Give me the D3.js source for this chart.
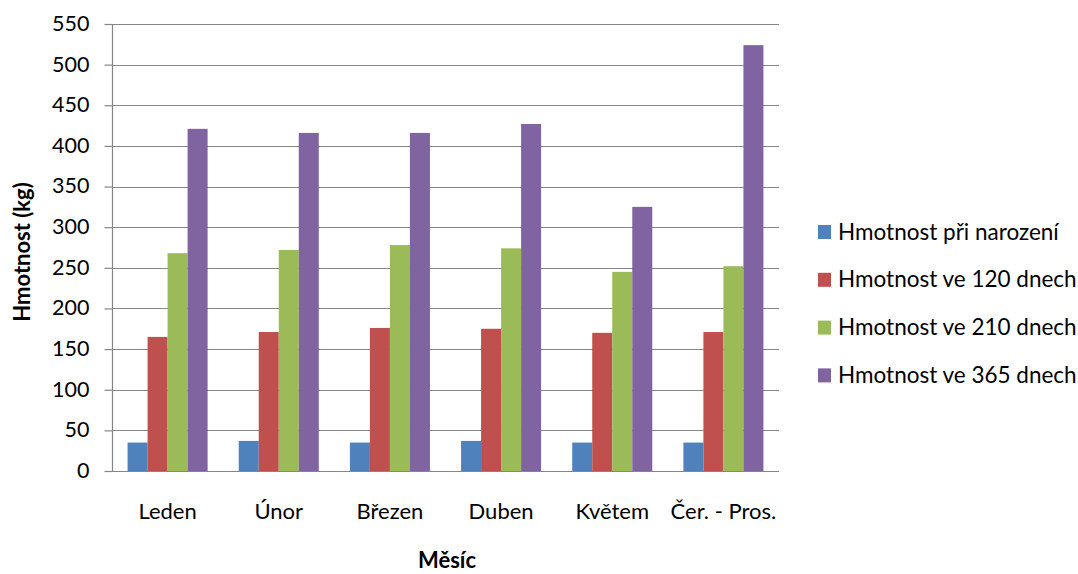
<!DOCTYPE html>
<html>
<head>
<meta charset="utf-8">
<script src="https://cdn.jsdelivr.net/npm/d3@7"></script>
<style>
  html, body { margin: 0; padding: 0; background: #fff; }
  svg { display: block; font-family: Lato, "Open Sans", sans-serif; }
</style>
</head>
<body>
<svg id="chart" width="1078" height="574"></svg>
<script>
// Months (category axis)
const months = ["Leden", "Únor", "Březen", "Duben", "Květem", "Čer. - Pros."];

// Series names
const seriesNames = [
  "Hmotnost při narození",
  "Hmotnost ve 120 dnech",
  "Hmotnost ve 210 dnech",
  "Hmotnost ve 365 dnech"
];

// Weights (kg) per month, one array per series
const birthWeight = [35, 37, 35, 37, 35, 35];
const weight120 = [165, 171, 176, 175, 170, 171];
const weight210 = [268, 272, 278, 274, 245, 252];
const weight365 = [421, 416, 416, 427, 325, 524];

const seriesColors = ["#4F81BD", "#C0504D", "#9BBB59", "#8064A2"];
const yTicks = [0, 50, 100, 150, 200, 250, 300, 350, 400, 450, 500, 550];

const seriesValues = [birthWeight, weight120, weight210, weight365];

const svg = d3.select("#chart");
const plot = { left: 112, right: 779, top: 24, bottom: 471 };

const x = d3.scaleBand()
  .domain(months)
  .range([plot.left, plot.right])
  .paddingInner(0.28)
  .paddingOuter(0.14);

const xSeries = d3.scaleBand()
  .domain(d3.range(seriesNames.length))
  .range([0, x.bandwidth()]);

const y = d3.scaleLinear()
  .domain([0, 550])
  .range([plot.bottom, plot.top]);

const gridColor = "#868686";

// Horizontal gridlines
svg.append("g")
  .selectAll("line")
  .data(yTicks)
  .join("line")
  .attr("x1", plot.left)
  .attr("x2", plot.right)
  .attr("y1", d => Math.round(y(d)) + 0.5)
  .attr("y2", d => Math.round(y(d)) + 0.5)
  .attr("stroke", gridColor)
  .attr("stroke-width", 1.2);

// Bars
const groups = svg.append("g")
  .selectAll("g")
  .data(months)
  .join("g")
  .attr("transform", d => `translate(${x(d)},0)`);

groups.selectAll("rect")
  .data((m, i) => seriesValues.map((vals, s) => ({ s, v: vals[i] })))
  .join("rect")
  .attr("x", d => xSeries(d.s))
  .attr("width", xSeries.bandwidth())
  .attr("y", d => y(d.v))
  .attr("height", d => y(0) - y(d.v))
  .attr("fill", d => seriesColors[d.s]);

// Y axis
const yAxis = d3.axisLeft(y)
  .tickValues(yTicks)
  .tickSize(8)
  .tickPadding(15)
  .tickFormat(d3.format("d"));

const gy = svg.append("g")
  .attr("transform", `translate(${plot.left + 0.5},0)`)
  .call(yAxis);
gy.select(".domain").attr("stroke", gridColor).attr("stroke-width", 1.2)
  .attr("d", `M0,${plot.top}V${plot.bottom}`);
gy.selectAll(".tick line").attr("stroke", gridColor).attr("stroke-width", 1.2);
gy.selectAll(".tick text")
  .attr("font-family", "Lato, sans-serif")
  .attr("font-size", 21.5)
  .attr("fill", "#000")
  .attr("dy", "0.3em");

// X axis labels
const xAxis = d3.axisBottom(x).tickSize(0).tickPadding(32);
const gx = svg.append("g")
  .attr("transform", `translate(0,${plot.bottom})`)
  .call(xAxis);
gx.select(".domain").remove();
gx.selectAll(".tick text")
  .attr("font-family", "Lato, sans-serif")
  .attr("font-size", 22)
  .attr("fill", "#000");

// Axis titles
svg.append("text")
  .attr("transform", "translate(30,252) rotate(-90)")
  .attr("text-anchor", "middle")
  .attr("font-size", 22)
  .attr("font-weight", "bold")
  .text("Hmotnost (kg)");

svg.append("text")
  .attr("x", 447)
  .attr("y", 568)
  .attr("text-anchor", "middle")
  .attr("font-size", 22)
  .attr("font-weight", "bold")
  .text("Měsíc");

// Legend
const legend = svg.append("g")
  .selectAll("g")
  .data(seriesNames)
  .join("g")
  .attr("transform", (d, i) => `translate(818,${232 + i * 47.8})`);

legend.append("rect")
  .attr("x", 0)
  .attr("y", -7)
  .attr("width", 13)
  .attr("height", 14)
  .attr("fill", (d, i) => seriesColors[i]);

legend.append("text")
  .attr("x", 20)
  .attr("y", 7.5)
  .attr("font-size", 22.5)
  .attr("fill", "#000")
  .text(d => d);
</script>
</body>
</html>
